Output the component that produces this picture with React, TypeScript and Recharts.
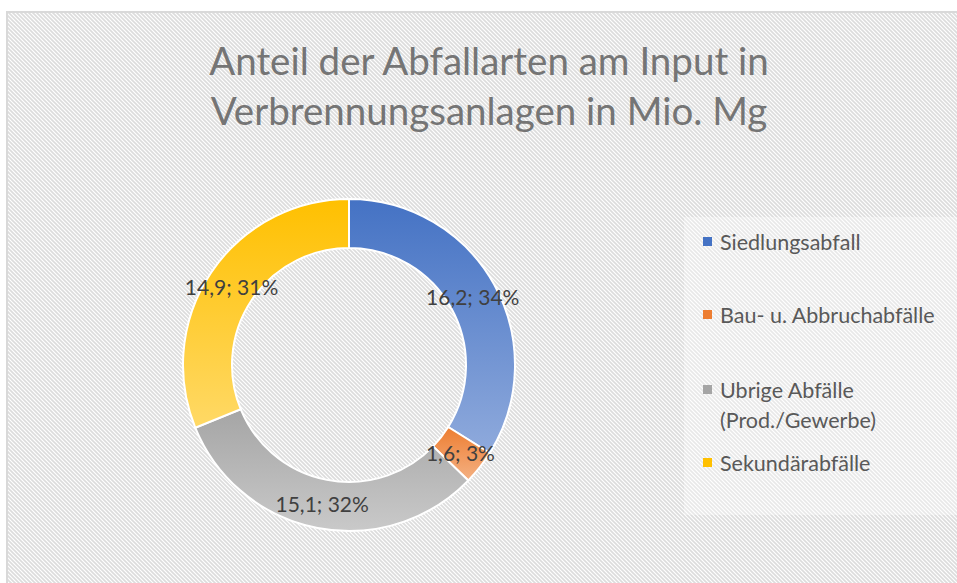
import { PieChart, Pie, Cell, Legend } from 'recharts';

// Input in Verbrennungsanlagen (Mio. Mg)
const categories = [
  'Siedlungsabfall',
  'Bau- u. Abbruchabfälle',
  'Ubrige Abfälle (Prod./Gewerbe)',
  'Sekundärabfälle',
];
const legendLines = [
  ['Siedlungsabfall'],
  ['Bau- u. Abbruchabfälle'],
  ['Ubrige Abfälle', '(Prod./Gewerbe)'],
  ['Sekundärabfälle'],
];
const values = [16.2, 1.6, 15.1, 14.9];
const titleLines = ['Anteil der Abfallarten am Input in', 'Verbrennungsanlagen in Mio. Mg'];

// top / bottom colour of each slice gradient
const colorsTop = ['#4472C4', '#ED7D31', '#A5A5A5', '#FFC000'];
const colorsBottom = ['#8FAADC', '#F4B183', '#C9C9C9', '#FFD966'];

const data = categories.map((name, i) => ({ name, value: values[i] }));

const FONT = 'Lato, "Open Sans", sans-serif';
const RAD = Math.PI / 180;

const fmt = (v: number) => v.toFixed(1).replace('.', ',');

function renderLabel(props: any) {
  const { cx, cy, midAngle, innerRadius, outerRadius, value, percent } = props;
  const r = (innerRadius + outerRadius) / 2;
  const x = cx + r * Math.cos(-midAngle * RAD);
  const y = cy + r * Math.sin(-midAngle * RAD);
  return (
    <text
      x={x}
      y={y}
      textAnchor="middle"
      dominantBaseline="central"
      fill="#404040"
      fontSize={21}
      fontFamily={FONT}
    >
      {`${fmt(value)}; ${Math.round(percent * 100)}%`}
    </text>
  );
}

function LegendBox() {
  const rows = [242, 315, 390, 463];
  return (
    <div
      style={{
        position: 'relative',
        width: 273,
        height: 298,
        background: 'rgba(255,255,255,0.35)',
        fontFamily: FONT,
        fontSize: 21.5,
        color: '#595959',
      }}
    >
      {legendLines.map((lines, i) => (
        <div key={i}>
          <div
            style={{
              position: 'absolute',
              left: 19,
              top: rows[i] - 217 - 5,
              width: 9,
              height: 9,
              background: colorsTop[i],
            }}
          />
          {lines.map((t, j) => (
            <div
              key={j}
              style={{
                position: 'absolute',
                left: 36,
                top: rows[i] - 217 - 13 + j * 30,
                lineHeight: '26px',
                whiteSpace: 'nowrap',
              }}
            >
              {t}
            </div>
          ))}
        </div>
      ))}
    </div>
  );
}

export default function App() {
  return (
    <div
      style={{
        position: 'absolute',
        left: 0,
        top: 0,
        width: 957,
        height: 583,
        overflow: 'hidden',
        background: '#ffffff',
      }}
    >
      <svg width={957} height={583} style={{ position: 'absolute', left: 0, top: 0 }}>
        <defs>
          <pattern id="hatch" patternUnits="userSpaceOnUse" width={4} height={4}>
            <rect width={4} height={4} fill="#ffffff" />
            <path d="M-1,-1 L5,5 M-1,3 L1,5 M3,-1 L5,1" stroke="#dcdcdc" strokeWidth={1.6} />
          </pattern>
        </defs>
        <rect x={7} y={12} width={965} height={590} fill="url(#hatch)" stroke="#d9d9d9" strokeWidth={2} />
        {titleLines.map((t, i) => (
          <text
            key={i}
            x={489}
            y={75 + i * 50}
            textAnchor="middle"
            fill="#757575"
            fontSize={38.5}
            fontFamily={FONT}
          >
            {t}
          </text>
        ))}
      </svg>
      <div style={{ position: 'absolute', left: 0, top: 0 }}>
        <PieChart width={957} height={583} margin={{ top: 0, right: 0, bottom: 0, left: 0 }}>
          <defs>
            {colorsTop.map((c, i) => (
              <linearGradient key={i} id={`grad${i}`} x1="0" y1="0" x2="0" y2="1">
                <stop offset="0%" stopColor={c} />
                <stop offset="100%" stopColor={colorsBottom[i]} />
              </linearGradient>
            ))}
          </defs>
          <Pie
            data={data}
            dataKey="value"
            nameKey="name"
            cx={349}
            cy={365}
            innerRadius={117}
            outerRadius={166}
            startAngle={90}
            endAngle={-270}
            stroke="#ffffff"
            strokeWidth={2}
            label={renderLabel}
            labelLine={false}
            isAnimationActive={false}
          >
            {data.map((d, i) => (
              <Cell key={d.name} fill={`url(#grad${i})`} />
            ))}
          </Pie>
          <Legend
            layout="vertical"
            align="right"
            verticalAlign="top"
            content={() => <LegendBox />}
            wrapperStyle={{ left: 684, top: 217, width: 273 }}
          />
        </PieChart>
      </div>
    </div>
  );
}
